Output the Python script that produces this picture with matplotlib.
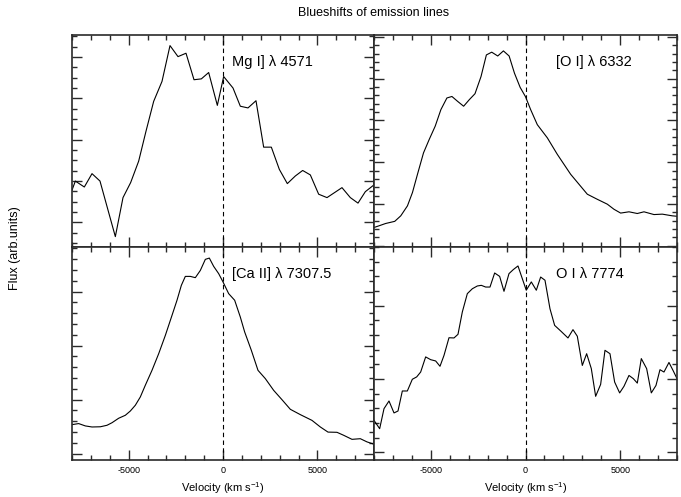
import matplotlib
matplotlib.use("Agg")
import matplotlib.pyplot as plt
from matplotlib.ticker import MultipleLocator, NullFormatter

plt.rcParams['font.family'] = ['Liberation Sans', 'DejaVu Sans']
plt.rcParams['axes.unicode_minus'] = False
plt.rcParams['mathtext.fontset'] = 'custom'
plt.rcParams['mathtext.rm'] = 'Liberation Sans'
plt.rcParams['mathtext.default'] = 'regular'

# ---- data (velocity in km/s, flux in arbitrary units) ----
mg_vel = [-8000, -7823, -7347, -6940, -6517, -5704, -5298, -4892, -4468, -4080,
          -3673, -3232, -2808, -2384, -1960, -1536, -1148, -759, -300, 35,
          530, 918, 1324, 1748, 2154, 2561, 2985, 3408, 3832, 4221,
          4627, 5068, 5510, 5916, 6304, 6746, 7152, 7541, 8000]
mg_flux = [0.268, 0.311, 0.283, 0.346, 0.311, 0.049, 0.233, 0.304, 0.405, 0.546,
           0.687, 0.781, 0.950, 0.898, 0.914, 0.789, 0.793, 0.823, 0.668, 0.804,
           0.750, 0.664, 0.656, 0.690, 0.471, 0.471, 0.366, 0.299, 0.335, 0.361,
           0.340, 0.249, 0.233, 0.257, 0.280, 0.233, 0.207, 0.261, 0.293]

oi_vel = [-8000, -7735, -7382, -6905, -6587, -6234, -5969, -5704, -5386, -5086,
          -4768, -4468, -4150, -3885, -3585, -3267, -2967, -2667, -2349, -2066,
          -1784, -1466, -1166, -865, -583, -283, 0, 272, 624, 1152,
          1680, 2384, 2824, 3264, 3792, 4320, 4672, 5024, 5464, 5904,
          6256, 6784, 7224, 7752, 8000]
oi_flux = [0.092, 0.100, 0.111, 0.121, 0.147, 0.194, 0.257, 0.343, 0.444, 0.507,
           0.570, 0.648, 0.703, 0.710, 0.687, 0.664, 0.695, 0.723, 0.804, 0.906,
           0.919, 0.901, 0.925, 0.901, 0.820, 0.753, 0.709, 0.648, 0.577, 0.515,
           0.437, 0.343, 0.296, 0.249, 0.225, 0.202, 0.178, 0.160, 0.166, 0.158,
           0.166, 0.153, 0.155, 0.147, 0.145]

ca_vel = [-8000, -7647, -7294, -6940, -6499, -6146, -5881, -5528, -5174, -4910,
          -4645, -4380, -4115, -3762, -3408, -3055, -2702, -2437, -2207, -1996,
          -1731, -1466, -1201, -936, -724, -494, -230, 0, 300, 618,
          918, 1148, 1501, 1854, 2243, 2684, 3126, 3567, 4097, 4715,
          5157, 5563, 6040, 6393, 6834, 7276, 7629, 8000]
ca_flux = [0.166, 0.171, 0.160, 0.155, 0.156, 0.163, 0.175, 0.196, 0.210, 0.230,
           0.257, 0.296, 0.351, 0.421, 0.499, 0.585, 0.679, 0.750, 0.820, 0.862,
           0.862, 0.856, 0.890, 0.942, 0.948, 0.909, 0.875, 0.836, 0.781, 0.750,
           0.671, 0.601, 0.515, 0.421, 0.382, 0.327, 0.283, 0.238, 0.213, 0.186,
           0.155, 0.131, 0.130, 0.116, 0.097, 0.100, 0.085, 0.074]

o7_vel = [-8000, -7701, -7472, -7208, -6944, -6733, -6504, -6240, -5976, -5747,
          -5536, -5272, -5008, -4744, -4515, -4304, -4040, -3776, -3565, -3336,
          -3072, -2808, -2544, -2333, -2104, -1875, -1629, -1365, -1136, -872,
          -643, -397, 40, 307, 571, 800, 1029, 1293, 1539, 1856,
          2243, 2507, 2736, 3000, 3229, 3475, 3704, 3968, 4197, 4461,
          4707, 4971, 5200, 5464, 5693, 5904, 6115, 6397, 6643, 6890,
          7101, 7312, 7576, 7805, 8000]
o7_flux = [0.186, 0.147, 0.241, 0.277, 0.221, 0.230, 0.324, 0.324, 0.379, 0.390,
           0.413, 0.484, 0.471, 0.465, 0.440, 0.491, 0.574, 0.573, 0.590, 0.695,
           0.781, 0.804, 0.817, 0.820, 0.812, 0.812, 0.878, 0.862, 0.792, 0.875,
           0.894, 0.911, 0.797, 0.836, 0.797, 0.859, 0.844, 0.710, 0.632, 0.606,
           0.573, 0.612, 0.581, 0.444, 0.499, 0.429, 0.299, 0.355, 0.515, 0.499,
           0.366, 0.315, 0.346, 0.397, 0.382, 0.361, 0.476, 0.429, 0.315, 0.350,
           0.424, 0.413, 0.458, 0.418, 0.382]

labels = ["Mg I] \u03bb 4571", "[O I] \u03bb 6332",
          "[Ca II] \u03bb 7307.5", "O I \u03bb 7774"]
x_ticks_major = 5000
x_ticks_minor = 1000

# y tick layouts (major step, minor step, offset) per panel
ytick_specs = [(0.195, 0.04875, 0.116), (0.197, 0.0394, 0.006),
               (0.2535, 0.0507, 0.030), (0.344, 0.0688, 0.036)]

W, H = 681, 497
fig = plt.figure(figsize=(W / 100, H / 100), dpi=100)

def rect(x0, y0, x1, y1):
    return [x0 / W, 1 - y1 / H, (x1 - x0) / W, (y1 - y0) / H]

rects = [rect(72, 35, 374, 247), rect(374, 35, 677, 247),
         rect(72, 247, 374, 460), rect(374, 247, 677, 460)]
series = [(mg_vel, mg_flux), (oi_vel, oi_flux), (ca_vel, ca_flux), (o7_vel, o7_flux)]
label_pos = [(0.530, 0.874), (0.600, 0.874), (0.531, 0.873), (0.600, 0.872)]

frame_col = '#2a2a2a'
for i in range(4):
    ax = fig.add_axes(rects[i])
    v, f = series[i]
    ax.plot(v, f, color='black', lw=0.8)
    ax.axvline(0, color='black', lw=0.8, ls=(0, (4, 3)))
    ax.set_xlim(-8000, 8000)
    ax.set_ylim(0, 1)
    ax.xaxis.set_major_locator(MultipleLocator(x_ticks_major))
    ax.xaxis.set_minor_locator(MultipleLocator(x_ticks_minor))
    maj, mnr, off = ytick_specs[i]
    ax.yaxis.set_major_locator(MultipleLocator(maj, offset=off))
    ax.yaxis.set_minor_locator(MultipleLocator(mnr, offset=off))
    ax.yaxis.set_major_formatter(NullFormatter())
    ax.tick_params(which='both', direction='in', top=True, right=True,
                   color=frame_col, width=1.0)
    ax.tick_params(which='major', length=7)
    ax.tick_params(which='minor', length=3.6)
    ax.tick_params(axis='x', labelsize=6.5, pad=4)
    for sp in ax.spines.values():
        sp.set_linewidth(1.2)
        sp.set_color(frame_col)
    if i < 2:
        ax.xaxis.set_major_formatter(NullFormatter())
    else:
        ax.set_xlabel("Velocity (km s$^{-1}$)", fontsize=8, labelpad=4)
    ax.text(label_pos[i][0], label_pos[i][1], labels[i], transform=ax.transAxes,
            ha='left', va='center', fontsize=10.5)

fig.text(374 / W, 1 - 13 / H, "Blueshifts of emission lines", ha='center',
         va='center', fontsize=9)
fig.text(15 / W, 1 - 248 / H, "Flux (arb.units)", ha='center', va='center',
         rotation=90, fontsize=9)

fig.savefig("out.png", dpi=100)
